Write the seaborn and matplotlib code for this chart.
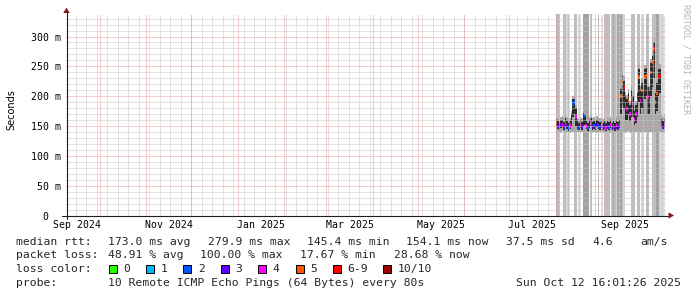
import numpy as np
import pandas as pd
import matplotlib
matplotlib.use("Agg")
import matplotlib.pyplot as plt
import matplotlib.dates as mdates
from matplotlib.lines import Line2D
from matplotlib.patches import Polygon, Rectangle
import seaborn as sns

# ---------------- data (daily aggregates, Aug 1 - Oct 12 2025) ----------------
first_day = "2025-08-01"
median_ms = [155, 150, 148, 152, 153, 149, 155, 151, 147, 150,
             158, 187, 190, 165, 150, 148, 152, 149, 163, 168,
             150, 147, 152, 155, 149, 151, 148, 153, 150, 149,
             152, 148, 150, 147, 151, 149, 152, 148, 150, 147,
             151, 149, 152,
             201, 224, 215, 185, 179, 193, 170, 196, 188, 160,
             171, 193, 232, 193, 210, 196, 232, 235, 199, 193,
             240, 257, 279, 190, 205, 232, 235, 154, 148, 154]
loss_idx = [7, 3, 4, 3, 4, 3, 4, 3, 2, 4,
            3, 2, 2, 4, 3, 2, 4, 3, 3, 2,
            4, 2, 3, 4, 3, 2, 4, 3, 2, 3,
            4, 2, 3, 4, 3, 2, 4, 3, 4, 3,
            4, 3, 4,
            5, 5, 6, 4, 4, 5, 4, 4, 4, 4,
            4, 4, 5, 4, 5, 4, 5, 5, 4, 4,
            5, 5, 6, 5, 5, 6, 6, 4, 3, 4]
smoke_light_lo = [140, 139, 141, 138, 142, 140, 139, 141, 140, 138,
                  141, 140, 142, 139, 140, 141, 138, 140, 139, 141,
                  140, 139, 141, 140, 138, 141, 140, 139, 141, 140,
                  138, 141, 140, 139, 141, 140, 139, 141, 140, 138,
                  141, 140, 139,
                  142, 140, 141, 139, 140, 142, 138, 140, 141, 139,
                  140, 142, 141, 139, 140, 138, 141, 140, 139, 141,
                  140, 139, 141, 140, 142, 139, 140, 140, 139, 141]
smoke_dark_lo = [150, 145, 143, 147, 148, 144, 150, 146, 142, 145,
                 150, 165, 170, 150, 145, 143, 147, 144, 150, 152,
                 145, 142, 147, 150, 144, 146, 143, 148, 145, 144,
                 147, 143, 145, 142, 146, 144, 147, 143, 145, 142,
                 146, 144, 147,
                 170, 185, 180, 160, 160, 170, 158, 165, 165, 152,
                 155, 165, 190, 170, 180, 170, 195, 200, 170, 170,
                 200, 215, 230, 170, 175, 200, 205, 148, 145, 148]
smoke_dark_hi = [162, 158, 156, 160, 161, 157, 163, 159, 155, 158,
                 170, 195, 196, 180, 158, 156, 160, 157, 172, 170,
                 158, 155, 160, 163, 157, 159, 156, 161, 158, 157,
                 160, 156, 158, 155, 159, 157, 160, 156, 158, 155,
                 159, 157, 160,
                 212, 236, 226, 200, 195, 205, 185, 210, 200, 175,
                 185, 205, 245, 210, 222, 210, 245, 248, 215, 210,
                 255, 268, 290, 205, 222, 245, 246, 162, 158, 162]
smoke_light_hi = [168, 164, 162, 166, 167, 163, 169, 165, 161, 164,
                  176, 200, 202, 186, 164, 162, 166, 163, 178, 176,
                  164, 161, 166, 169, 163, 165, 162, 167, 164, 163,
                  166, 162, 164, 161, 165, 163, 166, 162, 164, 161,
                  165, 163, 166,
                  220, 244, 234, 208, 203, 213, 193, 218, 208, 183,
                  193, 213, 253, 218, 230, 218, 253, 256, 223, 218,
                  263, 276, 298, 213, 230, 253, 254, 170, 166, 170]
loss_bg = [3, 2, 2, 0, 0, 2, 2, 1, 2, 0,
           0, 0, 2, 2, 0, 1, 0, 0, 3, 3,
           3, 3, 0, 2, 0, 0, 1, 0, 2, 0,
           0, 0, 2, 2, 2, 2, 0, 2, 3, 2,
           1, 3, 2, 3, 2, 1, 0, 0, 0, 0,
           2, 2, 2, 0, 2, 2, 0, 1, 1, 0,
           2, 2, 0, 0, 2, 2, 2, 3, 3, 1,
           1, 1, 0]

loss_labels = ["0", "1", "2", "3", "4", "5", "6-9", "10/10"]
loss_colors = ["#26ff00", "#00b8ff", "#0059ff", "#5e00ff",
               "#ff00ff", "#ff5500", "#ff0000", "#a00000"]

y_ticks = [0, 50, 100, 150, 200, 250, 300]
y_tick_labels = ["0  ", "50 m", "100 m", "150 m", "200 m", "250 m", "300 m"]
x_tick_months = ["2024-09", "2024-11", "2025-01", "2025-03", "2025-05", "2025-07", "2025-09"]
x_tick_labels = ["Sep 2024", "Nov 2024", "Jan 2025", "Mar 2025", "May 2025", "Jul 2025", "Sep 2025"]

rtt_label = "median rtt:"
rtt_stats = ["173.0 ms avg", "279.9 ms max", "145.4 ms min", "154.1 ms now",
             "37.5 ms sd", "4.6", "am/s"]
pl_label = "packet loss:"
pl_stats = ["48.91 % avg", "100.00 % max", "17.67 % min", "28.68 % now"]
lc_label = "loss color:"
probe_label = "probe:"
probe_text = "10 Remote ICMP Echo Pings (64 Bytes) every 80s"
stamp_text = "Sun Oct 12 16:01:26 2025"
y_axis_title = "Seconds"
watermark = "RRDTOOL / TOBI OETIKER"

# ---------------- figure ----------------
sns.set_style("white")
plt.rcParams['font.family'] = ['DejaVu Sans Mono', 'DejaVu Sans']
plt.rcParams['lines.scale_dashes'] = False

W, H = 697, 297
fig = plt.figure(figsize=(W / 100, H / 100), dpi=100)
fig.patch.set_facecolor("white")


def fx(x):
    return x / W


def fy(y):
    return 1 - y / H


ax_l, ax_r, ax_t, ax_b = 66.0, 666.0, 14.0, 216.0
ax = fig.add_axes([fx(ax_l), fy(ax_b), (ax_r - ax_l) / W, (ax_b - ax_t) / H])
ax.set_facecolor("white")

t0 = pd.Timestamp("2024-09-08 12:00")
t1 = t0 + pd.Timedelta(days=400)
x0, x1 = mdates.date2num(t0), mdates.date2num(t1)
ymax = (ax_b - ax_t) / 0.5983

days = pd.date_range(first_day, periods=len(median_ms), freq="D")
df = pd.DataFrame({
    "day": mdates.date2num(days),
    "median": median_ms,
    "loss": [loss_labels[i] for i in loss_idx],
    "llo": smoke_light_lo, "dlo": smoke_dark_lo,
    "dhi": smoke_dark_hi, "lhi": smoke_light_hi,
    "bg": loss_bg,
})
df["mid"] = df["day"] + 0.5

bg_cols = {1: "#d6d6d6", 2: "#bebebe", 3: "#a2a2a2"}
bg = df[df.bg > 0]
ax.bar(bg.day, ymax + 10, bottom=0, width=1.0, align="edge",
       color=[bg_cols[v] for v in bg.bg], linewidth=0, zorder=1)
ax.bar(df.day, df.lhi - df.llo, bottom=df.llo, width=1.0, align="edge",
       color="#a9a9a9", linewidth=0, zorder=2)
ax.bar(df.day, df.dhi - df.dlo, bottom=df.dlo, width=1.0, align="edge",
       color="#2c2c2c", linewidth=0, zorder=2.1)

rect = [(-0.5, -1.0), (0.5, -1.0), (0.5, 1.0), (-0.5, 1.0)]
sns.scatterplot(data=df, x="mid", y="median", hue="loss",
                palette=dict(zip(loss_labels, loss_colors)),
                marker=rect, s=7, linewidth=0, legend=False, ax=ax, zorder=4)

# grid (drawn on top like rrdtool), 1px dotted lines
dot = (0, (0.72, 0.72))
gkw = dict(lw=0.72, ls=dot, snap=True)
for v in range(10, 340, 10):
    if v % 50:
        ax.axhline(v, color="#c8c8c8", zorder=5, **gkw)
for d in pd.date_range("2024-09-01", "2025-10-31", freq="W-SUN"):
    ax.axvline(mdates.date2num(d), color="#c8c8c8", zorder=5, **gkw)
for v in range(50, 301, 50):
    ax.axhline(v, color="#ee9c9c", zorder=6, **gkw)
for d in pd.date_range("2024-10-01", "2025-10-31", freq="MS"):
    ax.axvline(mdates.date2num(d), color="#ee9c9c", zorder=6, **gkw)

ax.set_xlim(x0, x1)
ax.set_ylim(0, ymax)
for s in ax.spines.values():
    s.set_visible(False)

# ticks
ax.set_yticks(y_ticks)
ax.set_yticklabels(y_tick_labels)
mids = []
for m in x_tick_months:
    a = pd.Timestamp(m + "-01")
    b = a + pd.offsets.MonthBegin(1)
    mids.append(mdates.date2num(a + (b - a) / 2))
ax.set_xticks(mids)
ax.set_xticklabels(x_tick_labels)
ax.tick_params(axis="both", length=0, labelsize=7.1, labelcolor="#000000")
ax.tick_params(axis="y", pad=3.9)
ax.tick_params(axis="x", pad=2.7)
ax.set_xlabel("")
ax.set_ylabel("")

# axes lines + arrows
axis_col = "#1e1e1e"
arrow_col = "#8a1a1a"
fig.add_artist(Line2D([fx(62), fx(668)], [fy(215.5), fy(215.5)], color=axis_col, lw=0.8))
fig.add_artist(Line2D([fx(66.5), fx(66.5)], [fy(218.5), fy(12)], color=axis_col, lw=0.8))
fig.add_artist(Polygon([(fx(668.5), fy(212.3)), (fx(668.5), fy(218.7)), (fx(674), fy(215.5))],
                       closed=True, color=arrow_col, lw=0))
fig.add_artist(Polygon([(fx(63.3), fy(13)), (fx(69.7), fy(13)), (fx(66.5), fy(7.5))],
                       closed=True, color=arrow_col, lw=0))

# titles / watermark
fig.text(fx(11), fy(109.5), y_axis_title, rotation=90, ha="center", va="center",
         fontsize=7.0, family="DejaVu Sans", color="#000000")
fig.text(fx(686), fy(4.5), watermark, rotation=270, ha="center", va="top",
         fontsize=6.0, color="#b4b4b4")

# legend block
LF = 8.2
rows = [241.7, 255.3, 269.3, 283.3]
fig.text(fx(16), fy(rows[0]), rtt_label, fontsize=LF, va="center")
for txt, xp in zip(rtt_stats, [108, 207.5, 307, 406.5, 506, 592, 640]):
    fig.text(fx(xp), fy(rows[0]), txt, fontsize=LF, va="center")
fig.text(fx(16), fy(rows[1]), pl_label, fontsize=LF, va="center")
for txt, xp in zip(pl_stats, [108, 200.5, 300, 393.5]):
    fig.text(fx(xp), fy(rows[1]), txt, fontsize=LF, va="center")
fig.text(fx(16), fy(rows[2]), lc_label, fontsize=LF, va="center")
box_x = [108.6, 146, 183.5, 221, 258, 295.5, 333, 383]
for lab, col, bx in zip(loss_labels, loss_colors, box_x):
    fig.add_artist(Rectangle((fx(bx), fy(rows[2] + 4)), 8 / W, 8 / H,
                             facecolor=col, edgecolor="#000000", lw=0.7))
    fig.text(fx(bx + 14.5), fy(rows[2]), lab, fontsize=LF, va="center")
fig.text(fx(16), fy(rows[3]), probe_label, fontsize=LF, va="center")
fig.text(fx(108), fy(rows[3]), probe_text, fontsize=LF, va="center")
fig.text(fx(681), fy(rows[3]), stamp_text, fontsize=LF, va="center", ha="right")

fig.savefig("out.png", dpi=100, facecolor="white")
